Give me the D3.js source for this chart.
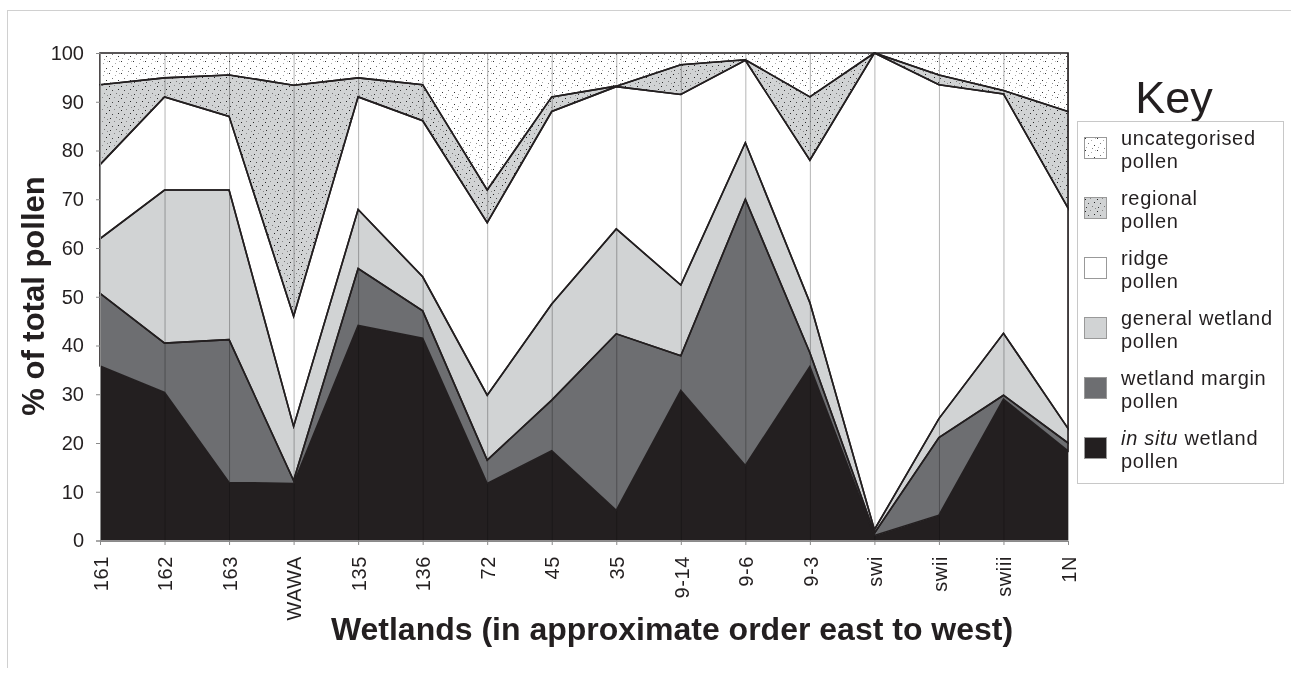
<!DOCTYPE html>
<html>
<head>
<meta charset="utf-8">
<script src="https://cdn.jsdelivr.net/npm/d3@7"></script>
<style>
  html, body { margin: 0; padding: 0; background: #fff; }
  svg { display: block; }
  text { font-family: "Liberation Sans", Arial, sans-serif; fill: #231f20; }
</style>
</head>
<body>
<svg id="chart" width="1291" height="673"></svg>
<script>
// ---- data ----
const categories = ["161","162","163","WAWA","135","136","72","45","35","9-14","9-6","9-3","swi","swii","swiii","1N"];
const inSitu        = [35.8,30.4,11.9,11.7,44.1,41.5,11.7,18.4, 6.2,30.8,15.4,35.7, 1.0, 5.2,29.0,18.4];
const wetlandMargin = [14.9,10.1,29.3, 0.6,11.7, 5.6, 4.8,10.4,36.2, 7.1,54.6, 2.8, 0.5,15.9, 0.8, 1.6];
const generalWet    = [11.2,31.4,30.7,11.1,12.1, 7.0,13.3,19.7,21.5,14.5,11.6,10.3, 0.7, 3.9,12.7, 3.0];
const ridge         = [15.2,19.1,15.1,22.6,23.1,32.0,35.4,39.5,29.2,39.1,16.9,29.2,97.8,68.5,49.1,45.2];
const regional      = [16.4, 3.9, 8.5,47.4, 3.9, 7.4, 6.7, 3.0, 0.1, 6.1, 0.1,13.0, 0.0, 2.0, 0.7,19.8];
const uncategorised = [ 6.5, 5.1, 4.5, 6.6, 5.1, 6.5,28.1, 9.0, 6.8, 2.4, 1.4, 9.0, 0.0, 4.5, 7.7,12.0];
const yTicks = [0,10,20,30,40,50,60,70,80,90,100];

const seriesKeys = ["inSitu","margin","general","ridge","regional","uncat"];
const seriesValues = [inSitu, wetlandMargin, generalWet, ridge, regional, uncategorised];
const legendLabels = [
  ["uncategorised","pollen"],
  ["regional","pollen"],
  ["ridge","pollen"],
  ["general wetland","pollen"],
  ["wetland margin","pollen"],
  ["in situ", "pollen"]
];

const table = categories.map((c, i) => {
  const row = { cat: c };
  seriesKeys.forEach((k, j) => row[k] = seriesValues[j][i]);
  return row;
});

const svg = d3.select("#chart");
const defs = svg.append("defs");

// dot textures
function dotPattern(id, bg, dots) {
  const p = defs.append("pattern").attr("id", id).attr("patternUnits", "userSpaceOnUse")
    .attr("width", 12).attr("height", 12);
  p.append("rect").attr("width", 12).attr("height", 12).attr("fill", bg);
  dots.forEach(d => p.append("rect").attr("x", d[0]).attr("y", d[1]).attr("width", 1).attr("height", 1).attr("fill", d[2]));
}
dotPattern("patUncat", "#ffffff", [[1,1,"#333"],[7,3,"#aaa"],[4,6,"#777"],[10,8,"#333"],[2,10,"#aaa"],[8,11,"#888"],[11,1,"#bbb"]]);
dotPattern("patRegional", "#d1d3d4", [[1,2,"#222"],[6,1,"#888"],[4,6,"#444"],[10,5,"#222"],[8,9,"#777"],[2,10,"#333"],[11,11,"#888"]]);

const fills = {
  inSitu: "#231f20",
  margin: "#6d6e71",
  general: "#d1d3d4",
  ridge: "#ffffff",
  regional: "url(#patRegional)",
  uncat: "url(#patUncat)"
};

const x = d3.scalePoint().domain(categories).range([100, 1068]);
const y = d3.scaleLinear().domain([0, 100]).range([540.5, 53]);

// outer frame
svg.append("line").attr("x1", 7.5).attr("x2", 7.5).attr("y1", 10).attr("y2", 668).attr("stroke", "#d0d0d0");
svg.append("line").attr("x1", 7.5).attr("x2", 1291).attr("y1", 10.5).attr("y2", 10.5).attr("stroke", "#d0d0d0");

const stack = d3.stack().keys(seriesKeys);
const stacked = stack(table);

const area = d3.area()
  .x(d => x(d.data.cat))
  .y0(d => y(d[0]))
  .y1(d => y(d[1]));

const gAreas = svg.append("g");
gAreas.selectAll("path").data(stacked).join("path")
  .attr("d", area)
  .attr("fill", d => fills[d.key]);

// vertical gridlines
svg.append("g").selectAll("line").data(categories).join("line")
  .attr("x1", d => x(d) + 0.5).attr("x2", d => x(d) + 0.5)
  .attr("y1", y(100)).attr("y2", y(0))
  .attr("stroke", "#b5b5b5").attr("stroke-width", 1)
  .style("mix-blend-mode", "multiply");

// outlines
svg.append("g").selectAll("path").data(stacked.filter(s => s.key !== "inSitu")).join("path")
  .attr("d", area)
  .attr("fill", "none")
  .attr("stroke", "#231f20")
  .attr("stroke-width", 1.6)
  .attr("stroke-linejoin", "miter");

// axes
const yAxis = d3.axisLeft(y).tickValues(yTicks).tickSize(4).tickPadding(12).tickFormat(d3.format("d"));
const gy = svg.append("g").attr("transform", "translate(100,0)").call(yAxis);
gy.select(".domain").attr("stroke", "#8a8a8a");
gy.selectAll(".tick line").attr("stroke", "#8a8a8a");
gy.selectAll("text").attr("font-size", 20).attr("font-family", "Liberation Sans, Arial, sans-serif").attr("fill", "#231f20");

const xAxis = d3.axisBottom(x).tickSize(4).tickPadding(0);
const gx = svg.append("g").attr("transform", "translate(0,541)").call(xAxis);
gx.select(".domain").attr("stroke", "#8a8a8a");
gx.selectAll(".tick line").attr("stroke", "#8a8a8a");
gx.selectAll("text")
  .attr("font-size", 20).attr("font-family", "Liberation Sans, Arial, sans-serif").attr("fill", "#231f20")
  .attr("letter-spacing", 0.6)
  .attr("transform", "rotate(-90)")
  .attr("text-anchor", "end")
  .attr("x", -15).attr("y", 0)
  .attr("dy", "0.36em");

// axis titles
svg.append("text")
  .attr("x", 672).attr("y", 640)
  .attr("text-anchor", "middle")
  .attr("font-size", 32).attr("font-weight", "bold")
  .text("Wetlands (in approximate order east to west)");

svg.append("text")
  .attr("transform", "translate(44,296) rotate(-90)")
  .attr("text-anchor", "middle")
  .attr("font-size", 31).attr("font-weight", "bold")
  .text("% of total pollen");

// legend
svg.append("text")
  .attr("x", 1174).attr("y", 113)
  .attr("text-anchor", "middle")
  .attr("font-size", 45)
  .text("Key");

svg.append("rect")
  .attr("x", 1077.5).attr("y", 121.5).attr("width", 206).attr("height", 362)
  .attr("fill", "#fff").attr("stroke", "#c8c8c8");

const legendFills = [fills.uncat, fills.regional, fills.ridge, fills.general, fills.margin, fills.inSitu];
const lg = svg.append("g").selectAll("g").data(legendLabels).join("g")
  .attr("transform", (d, i) => `translate(1084,${137 + i * 60})`);
lg.append("rect")
  .attr("x", 0.5).attr("y", 0.5).attr("width", 22).attr("height", 21)
  .attr("fill", (d, i) => legendFills[i])
  .attr("stroke", "#999");
lg.each(function(d, i) {
  const g = d3.select(this);
  const t = g.append("text").attr("x", 37).attr("y", 8).attr("font-size", 20).attr("letter-spacing", 0.7);
  if (i === 5) {
    t.append("tspan").attr("font-style", "italic").text("in situ");
    t.append("tspan").text(" wetland");
  } else {
    t.append("tspan").text(d[0]);
  }
  g.append("text").attr("x", 37).attr("y", 30.5).attr("font-size", 20).attr("letter-spacing", 0.7).text(d[1]);
});
</script>
</body>
</html>
